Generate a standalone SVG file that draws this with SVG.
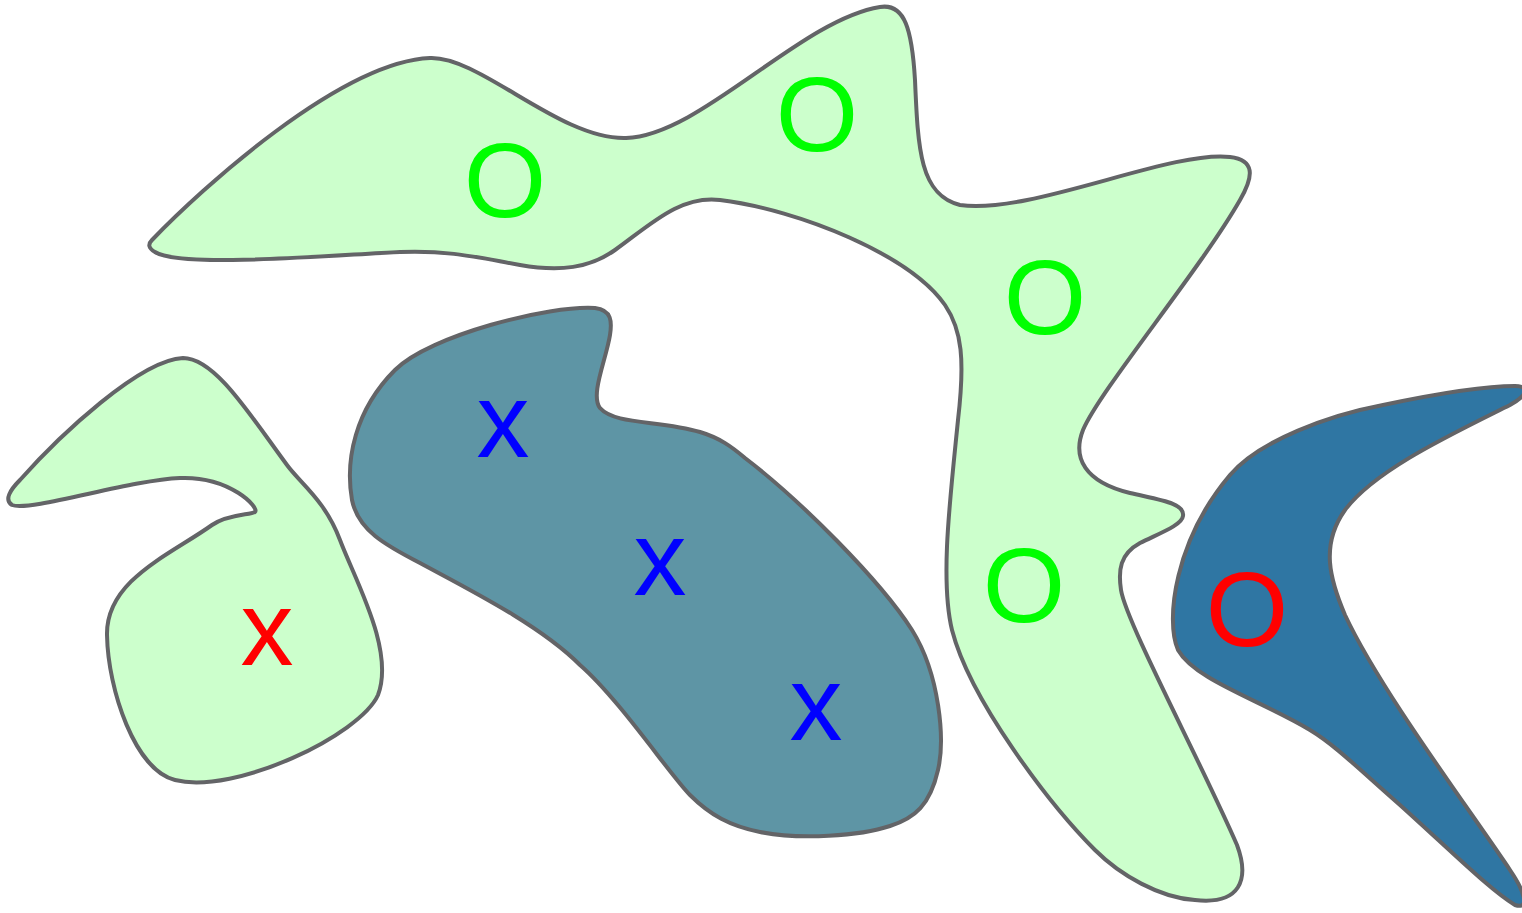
<svg xmlns="http://www.w3.org/2000/svg" width="1522" height="913" viewBox="0 0 1522 913">
<style>
.blob{stroke:#636467;stroke-width:4;stroke-linejoin:round}
.light{fill:#ccffcc}
.teal{fill:#5e95a5}
.navy{fill:#2f76a3}
.lbl{font-family:"Liberation Sans",Arial,sans-serif;font-size:106px;text-anchor:middle}
.g{fill:#00ff00}.r{fill:#ff0000}.b{fill:#0000ff}
</style>
<rect width="1522" height="913" fill="#ffffff"/>
<g id="big-green">
<path class="blob light" d="M152,240 C200,190 340,62 430,58 C480,56 560,140 626,138 C700,136 800,20 880,7 C905,3 912,30 915,80 C918,150 920,195 960,205 C1030,215 1170,150 1230,157 C1255,160 1254,176 1240,200 C1200,270 1100,390 1083,430 C1072,458 1085,482 1130,493 C1160,500 1185,503 1183,516 C1182,525 1160,533 1140,543 C1120,554 1118,570 1121,590 C1126,622 1200,760 1237,845 C1250,880 1240,905 1195,900 C1160,898 1120,875 1095,850 C1050,805 970,700 952,630 C940,580 950,500 958,420 C965,360 962,330 945,305 C910,255 800,210 720,200 C680,195 650,225 615,250 C590,268 560,272 520,265 C480,258 450,250 400,252 C320,256 180,268 155,252 C148,248 148,244 152,240 Z"/>
<text class="lbl g" x="505" y="217">O</text>
<text class="lbl g" x="817" y="151">O</text>
<text class="lbl g" x="1045" y="334">O</text>
<text class="lbl g" x="1024" y="622">O</text>
</g>
<g id="small-green">
<path class="blob light" d="M183,358 C215,358 250,415 287,465 C300,483 325,500 340,540 C355,580 395,650 378,695 C360,735 235,795 175,780 C135,770 108,690 107,635 C106,580 170,555 212,525 C228,514 250,515 255,512 C260,508 230,476 180,478 C130,480 30,512 12,505 C4,500 10,490 20,480 C60,435 140,360 183,358 Z"/>
<text class="lbl r" x="267" y="665">x</text>
</g>
<g id="teal">
<path class="blob teal" d="M595,308 C612,310 612,322 610,335 C606,360 590,395 600,408 C615,425 660,420 700,432 C720,438 732,447 745,458 C800,500 880,580 912,630 C940,675 945,740 938,770 C930,805 915,818 890,826 C860,836 800,840 760,832 C730,826 710,815 690,795 C670,775 620,700 580,665 C540,625 470,590 420,563 C385,545 358,530 352,500 C345,460 355,410 395,370 C430,335 550,305 595,308 Z"/>
<text class="lbl b" x="503" y="457">x</text>
<text class="lbl b" x="660" y="595">x</text>
<text class="lbl b" x="816" y="740">x</text>
</g>
<g id="navy">
<path class="blob navy" d="M1515,386 C1530,386 1528,395 1510,405 C1450,435 1375,470 1345,510 C1320,545 1330,580 1345,615 C1380,690 1470,810 1510,870 C1525,892 1530,910 1515,905 C1490,890 1450,850 1400,805 C1360,770 1335,745 1310,730 C1260,700 1195,680 1178,650 C1165,620 1175,540 1230,475 C1260,440 1330,415 1383,405 C1440,393 1490,386 1515,386 Z"/>
<text class="lbl r" x="1247" y="646">O</text>
</g>
<g id="connectors"/>
</svg>
